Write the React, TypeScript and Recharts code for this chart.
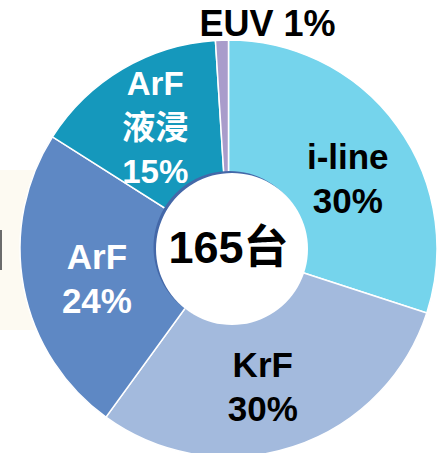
import React from 'react';
import { PieChart, Pie, Cell } from 'recharts';

// ---- data ----
const categories = ['i-line', 'KrF', 'ArF', 'ArF\n液浸', 'EUV'];
const shares = [30, 30, 24, 15, 1];
const totalUnits = 165;
const unitLabel = '台';

// ---- styling / layout ----
const sliceColors = ['#75D4EC', '#A3BADD', '#5E88C4', '#1598BC', '#A99CCB'];
const labelColors = ['#000000', '#000000', '#FFFFFF', '#FFFFFF', '#000000'];
const labelInline = [false, false, false, false, true];
const labelRadius = [140, 140, 136, 142, 222];
const labelNudge: [number, number][] = [
  [6, 12],
  [-9, 5],
  [2, 4],
  [-1, 1],
  [46, -3],
];
const labelFontSize = [35, 35, 35, 33, 36];
const LINE_PITCH = 44;

const PIE_CX = 228.5;
const PIE_CY = 248.5;
const OUTER_R = 208.5;
const DISK_R = 76;
const FONT = "'Liberation Sans', Arial, 'Noto Sans CJK TC', 'Noto Sans CJK SC', sans-serif";

const pieData = categories.map((name, i) => ({ name, value: shares[i] }));
const centerData = [{ name: 'total', value: totalUnits }];

const RAD = Math.PI / 180;

const renderSliceLabel = (props: any) => {
  const { index } = props;
  let midAngle = props.midAngle;
  if (typeof midAngle !== 'number') {
    const total = shares.reduce((a, b) => a + b, 0);
    const before = shares.slice(0, index).reduce((a, b) => a + b, 0);
    midAngle = 90 - ((before + shares[index] / 2) / total) * 360;
  }
  const r = labelRadius[index];
  const x = PIE_CX + r * Math.cos(-midAngle * RAD) + labelNudge[index][0];
  const y = PIE_CY + r * Math.sin(-midAngle * RAD) + labelNudge[index][1];
  const pct = `${shares[index]}%`;
  const lines = labelInline[index]
    ? [`${categories[index]} ${pct}`]
    : [...categories[index].split('\n'), pct];
  const fs = labelFontSize[index];
  const capHalf = fs * 0.358;
  const n = lines.length;
  return (
    <text
      key={`lbl-${index}`}
      x={x}
      textAnchor="middle"
      fill={labelColors[index]}
      fontFamily={FONT}
      fontWeight="bold"
      fontSize={fs}
    >
      {lines.map((ln, i) => (
        <tspan key={i} x={x} y={y + (i - (n - 1) / 2) * LINE_PITCH + capHalf}>
          {ln}
        </tspan>
      ))}
    </text>
  );
};

const renderCenterLabel = () => (
  <text
    key="center"
    x={PIE_CX}
    y={PIE_CY + 14.5}
    textAnchor="middle"
    fill="#000000"
    fontFamily={FONT}
    fontWeight="bold"
    fontSize={45}
  >
    {`${totalUnits}${unitLabel}`}
  </text>
);

export default function App() {
  return (
    <div style={{ position: 'absolute', left: 0, top: 0, width: 440, height: 453, background: '#FFFFFF', overflow: 'hidden' }}>
      <div style={{ position: 'absolute', left: 0, top: 170, width: 40, height: 160, background: '#FDFAF2' }} />
      <div style={{ position: 'absolute', left: 0, top: 230, width: 2, height: 40, background: '#6B6B6B' }} />
      <div style={{ position: 'absolute', left: 0, top: 0 }}>
        <PieChart width={440} height={453} margin={{ top: 0, right: 0, bottom: 0, left: 0 }}>
          <Pie
            data={pieData}
            dataKey="value"
            nameKey="name"
            cx={PIE_CX}
            cy={PIE_CY}
            innerRadius={0}
            outerRadius={OUTER_R}
            startAngle={90}
            endAngle={-270}
            stroke="#FFFFFF"
            strokeWidth={1.5}
            isAnimationActive={false}
            labelLine={false}
            label={renderSliceLabel}
          >
            {pieData.map((d, i) => (
              <Cell key={d.name} fill={sliceColors[i]} />
            ))}
          </Pie>
          <Pie
            data={centerData}
            dataKey="value"
            cx={PIE_CX + 1}
            cy={PIE_CY - 1.5}
            innerRadius={0}
            outerRadius={DISK_R}
            startAngle={90}
            endAngle={-270}
            fill="#4468A8"
            stroke="none"
            isAnimationActive={false}
            labelLine={false}
          />
          <Pie
            data={centerData}
            dataKey="value"
            cx={PIE_CX + 3.5}
            cy={PIE_CY + 0.5}
            innerRadius={0}
            outerRadius={DISK_R}
            startAngle={90}
            endAngle={-270}
            fill="#FFFFFF"
            stroke="none"
            isAnimationActive={false}
            labelLine={false}
            label={renderCenterLabel}
          />
        </PieChart>
      </div>
    </div>
  );
}
